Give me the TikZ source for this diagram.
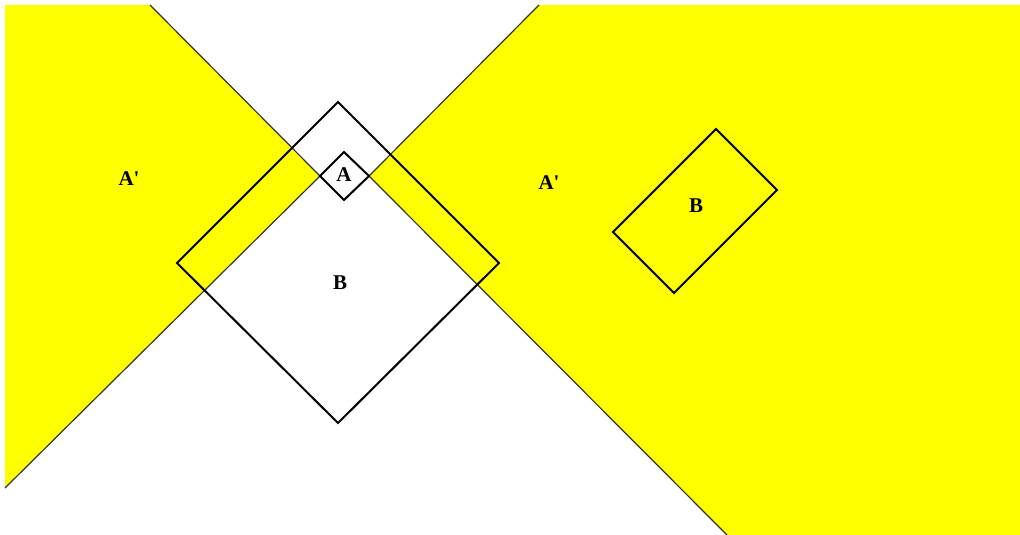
\documentclass[tikz,border=0pt]{standalone}
\usepackage{fontspec}
\newfontfamily\lbl{Liberation Serif}
\definecolor{yel}{RGB}{255,255,0}
\begin{document}
\begin{tikzpicture}[x=1pt,y=-1pt,
  region/.style={fill=yel,draw=none},
  edgeline/.style={draw=black!80,line width=1.2pt},
  shapeline/.style={draw=black,line width=2pt,line join=miter},
  lab/.style={font=\lbl\bfseries\fontsize{21}{21}\selectfont,inner sep=0pt}]
\useasboundingbox[fill=white] (0,0) rectangle (1020,535);
% yellow wedges
\fill[region] (5,5) -- (150,5) -- (320,176) -- (5,488) -- cycle;
\fill[region] (539,5) -- (1020,5) -- (1020,535) -- (727,535) -- (369,176) -- cycle;
\draw[edgeline] (150,5) -- (320,176) -- (5,488);
\draw[edgeline] (539,5) -- (369,176) -- (727,535);
% big diamond B
\draw[shapeline] (338,102) -- (499,263) -- (338,423) -- (177,263) -- cycle;
% small diamond A
\draw[shapeline] (344,152) -- (369,176) -- (344,200) -- (320,176) -- cycle;
% rectangle B
\draw[shapeline] (716,129) -- (777,190) -- (674,293) -- (613,232) -- cycle;
% labels
\node[lab] (aprimeL) at (129,179) {A'};
\node[lab] (aprimeR) at (549,183) {A'};
\node[lab] (a) at (344,175) {A};
\node[lab] (bL) at (340,283) {B};
\node[lab] (bR) at (696,206) {B};
\end{tikzpicture}
\end{document}
